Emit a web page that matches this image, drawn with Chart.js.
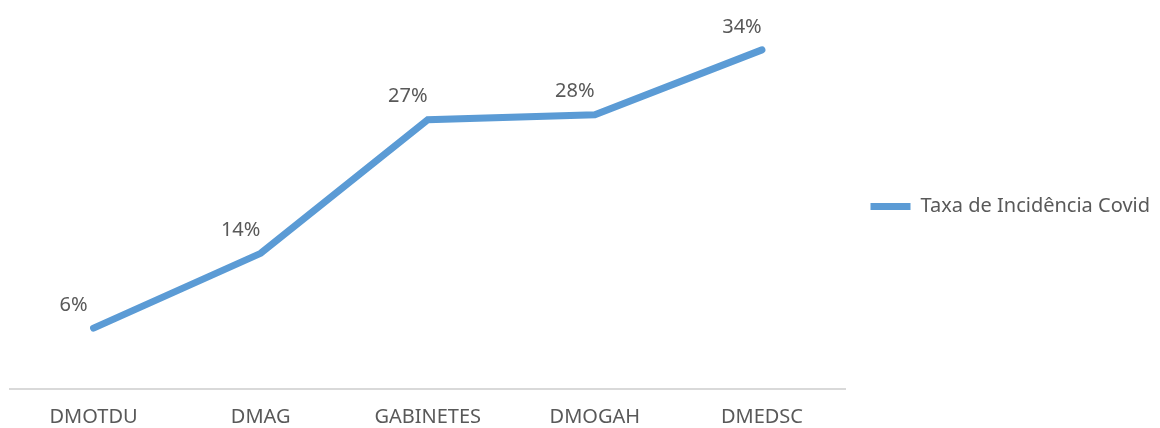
<!DOCTYPE html>
<html>
<head>
<meta charset="utf-8">
<script src="https://cdn.jsdelivr.net/npm/chart.js@4/dist/chart.umd.min.js"></script>
<style>
  html, body { margin: 0; padding: 0; background: #fff; }
  #wrap { width: 1160px; height: 428px; position: relative; }
</style>
</head>
<body>
<div id="wrap"><canvas id="chart"></canvas></div>
<script>
// categories and values (percent)
const categories = ['DMOTDU', 'DMAG', 'GABINETES', 'DMOGAH', 'DMEDSC'];
const incidence = [6.1, 13.6, 27.0, 27.5, 34.0];
const seriesName = 'Taxa de Incidência Covid';

const FONT = "'Noto Sans', 'Open Sans', sans-serif";
const BLUE = '#5B9BD5';
const TEXT = '#595959';

// labels above-left of each point, like the original
const pointLabels = {
  id: 'pointLabels',
  afterDatasetsDraw(chart) {
    const ctx = chart.ctx;
    const meta = chart.getDatasetMeta(0);
    ctx.save();
    ctx.font = '20px ' + FONT;
    ctx.fillStyle = TEXT;
    ctx.textAlign = 'center';
    ctx.textBaseline = 'middle';
    meta.data.forEach((pt, i) => {
      const v = chart.data.datasets[0].data[i];
      ctx.fillText(Math.round(v) + '%', pt.x - 20, pt.y - 23);
    });
    ctx.restore();
  }
};

new Chart(document.getElementById('chart'), {
  type: 'line',
  data: {
    labels: categories,
    datasets: [{
      label: seriesName,
      data: incidence,
      borderColor: BLUE,
      backgroundColor: BLUE,
      borderWidth: 7,
      borderCapStyle: 'round',
      borderJoinStyle: 'miter',
      pointRadius: 0,
      pointStyle: 'line',
      tension: 0,
    }]
  },
  options: {
    responsive: true,
    maintainAspectRatio: false,
    animation: false,
    layout: { padding: { left: 10, top: 0, right: 0, bottom: 0 } },
    plugins: {
      tooltip: { enabled: false },
      legend: {
        position: 'right',
        align: 'start',
        // blank title only used to push the single item down
        title: { display: true, text: ' ', padding: { top: 169, bottom: 0 }, font: { size: 2 } },
        labels: {
          usePointStyle: true,
          pointStyleWidth: 40,
          padding: 25,
          color: TEXT,
          font: { size: 20, family: FONT }
        }
      }
    },
    scales: {
      x: {
        offset: true,
        grid: { display: false },
        border: { color: '#d9d9d9', width: 2 },
        ticks: { color: TEXT, padding: 8, font: { size: 20, family: FONT } },
        afterFit(scale) { scale.height = 39; }
      },
      y: {
        display: false,
        min: 0,
        max: 39,
      }
    }
  },
  plugins: [pointLabels]
});
</script>
</body>
</html>
